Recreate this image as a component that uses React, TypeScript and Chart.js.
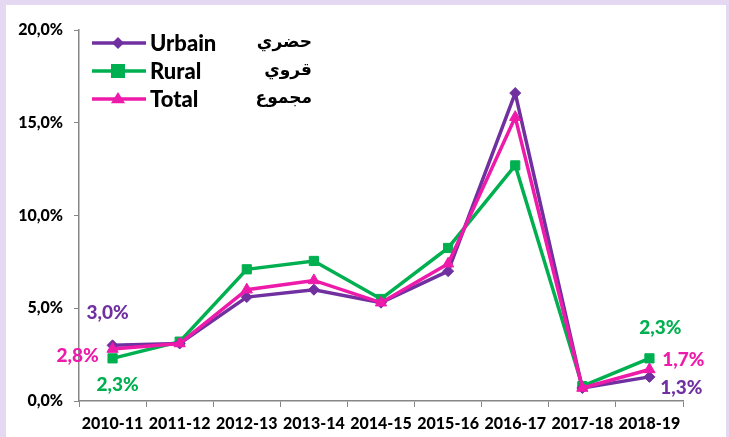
import React, { useEffect, useRef } from "react";
import { Chart, registerables } from "chart.js";

Chart.register(...registerables);

const categories = ["2010-11", "2011-12", "2012-13", "2013-14", "2014-15", "2015-16", "2016-17", "2017-18", "2018-19"];
const urbain = [3.0, 3.1, 5.6, 6.0, 5.3, 7.0, 16.6, 0.7, 1.3];
const rural = [2.3, 3.2, 7.1, 7.55, 5.5, 8.25, 12.7, 0.8, 2.3];
const total = [2.8, 3.1, 6.0, 6.5, 5.3, 7.4, 15.3, 0.7, 1.7];
const yTicks = [0, 5, 10, 15, 20];

const seriesNames = ["Urbain", "Rural", "Total"];
const arabicNames = ["حضري", "قروي", "مجموع"];
const colors = ["#7030A0", "#00B050", "#EE1AAA"];
const pointStyles = ["rectRot", "rect", "triangle"];

const FONT = "Lato, 'DejaVu Sans', sans-serif";
const fmt = (v: number) => v.toFixed(1).replace(".", ",") + "%";

// which endpoint labels to draw: [datasetIndex, pointIndex, dx, dy]
const endLabels: [number, number, number, number][] = [
  [0, 0, -5, -32],
  [2, 0, -35, 7],
  [1, 0, 5, 27],
  [1, 8, 11, -30],
  [2, 8, 34, -10],
  [0, 8, 32, 11],
];

const labelPlugin = {
  id: "customLabels",
  afterDraw(chart: any) {
    const ctx = chart.ctx;
    ctx.save();
    // endpoint labels
    ctx.font = `900 19px ${FONT}`;
    ctx.textAlign = "center";
    ctx.textBaseline = "middle";
    for (const [di, pi, dx, dy] of endLabels) {
      const meta = chart.getDatasetMeta(di);
      const pt = meta.data[pi];
      const val = chart.data.datasets[di].data[pi] as number;
      ctx.fillStyle = colors[di];
      ctx.fillText(fmt(val), pt.x + dx, pt.y + dy);
    }
    // legend
    const rows = [43, 71, 99];
    for (let i = 0; i < 3; i++) {
      const y = rows[i];
      ctx.strokeStyle = colors[i];
      ctx.lineWidth = 3.5;
      ctx.beginPath();
      ctx.moveTo(92, y);
      ctx.lineTo(146, y);
      ctx.stroke();
      ctx.fillStyle = colors[i];
      const r = i === 0 ? 6 : 7;
      ctx.beginPath();
      if (i === 0) {
        ctx.moveTo(118, y - r);
        ctx.lineTo(118 + r, y);
        ctx.lineTo(118, y + r);
        ctx.lineTo(118 - r, y);
      } else if (i === 1) {
        ctx.rect(118 - r, y - r, 2 * r, 2 * r);
      } else {
        ctx.moveTo(118, y - r);
        ctx.lineTo(118 + r, y + r * 0.6);
        ctx.lineTo(118 - r, y + r * 0.6);
      }
      ctx.closePath();
      ctx.fill();
      ctx.fillStyle = "#000";
      ctx.textAlign = "left";
      ctx.font = `900 22px ${FONT}`;
      ctx.fillText(seriesNames[i], 150, y + 1);
      ctx.textAlign = "right";
      ctx.font = `bold 17px 'DejaVu Sans', sans-serif`;
      ctx.fillText(arabicNames[i], 312, y);
    }
    ctx.restore();
  },
};

export default function App() {
  const ref = useRef<HTMLCanvasElement | null>(null);
  useEffect(() => {
    if (!ref.current) return;
    const seriesData = [urbain, rural, total];
    const chart = new Chart(ref.current, {
      type: "line",
      data: {
        labels: categories,
        datasets: seriesData.map((d, i) => ({
          label: seriesNames[i],
          data: d,
          borderColor: colors[i],
          backgroundColor: colors[i],
          borderWidth: 3.5,
          pointStyle: pointStyles[i] as any,
          pointRadius: i === 0 ? 5.5 : 6.5,
          pointBorderWidth: 1,
          tension: 0,
          order: i === 2 ? 0 : i === 0 ? 1 : 2,
        })),
      },
      options: {
        animation: false,
        responsive: false,
        maintainAspectRatio: false,
        layout: { padding: { top: 30, right: 46, left: 0, bottom: 0 } },
        plugins: { legend: { display: false }, tooltip: { enabled: false } },
        scales: {
          x: {
            type: "category",
            offset: true,
            grid: {
              display: true,
              offset: true,
              drawOnChartArea: false,
              drawTicks: true,
              tickLength: 6,
              color: "#868686",
            },
            border: { display: true, color: "#868686", width: 1.5 },
            ticks: {
              color: "#000",
              font: { family: FONT, size: 16, weight: "900" },
              padding: 7,
              maxRotation: 0,
              autoSkip: false,
            },
            afterFit: (s: any) => {
              s.height = 36;
            },
          },
          y: {
            min: 0,
            max: 20,
            afterBuildTicks: (s: any) => {
              s.ticks = yTicks.map((v) => ({ value: v }));
            },
            grid: {
              display: true,
              drawOnChartArea: false,
              drawTicks: true,
              tickLength: 5,
              color: "#868686",
            },
            border: { display: true, color: "#868686", width: 1.5 },
            ticks: {
              color: "#000",
              font: { family: FONT, size: 16, weight: "900" },
              padding: 11,
              callback: (v: any) => fmt(Number(v)),
            },
            afterFit: (s: any) => {
              s.width = 79;
            },
          },
        },
      },
      plugins: [labelPlugin],
    });
    return () => chart.destroy();
  }, []);

  return (
    <div style={{ position: "absolute", left: 0, top: 0, width: 729, height: 437, background: "#E4D8F3", overflow: "hidden" }}>
      <div style={{ position: "absolute", left: 6, top: 5, width: 720, height: 432, background: "#fff" }} />
      <canvas ref={ref} width={729} height={437} style={{ position: "absolute", left: 0, top: 0, width: 729, height: 437 }} />
    </div>
  );
}
